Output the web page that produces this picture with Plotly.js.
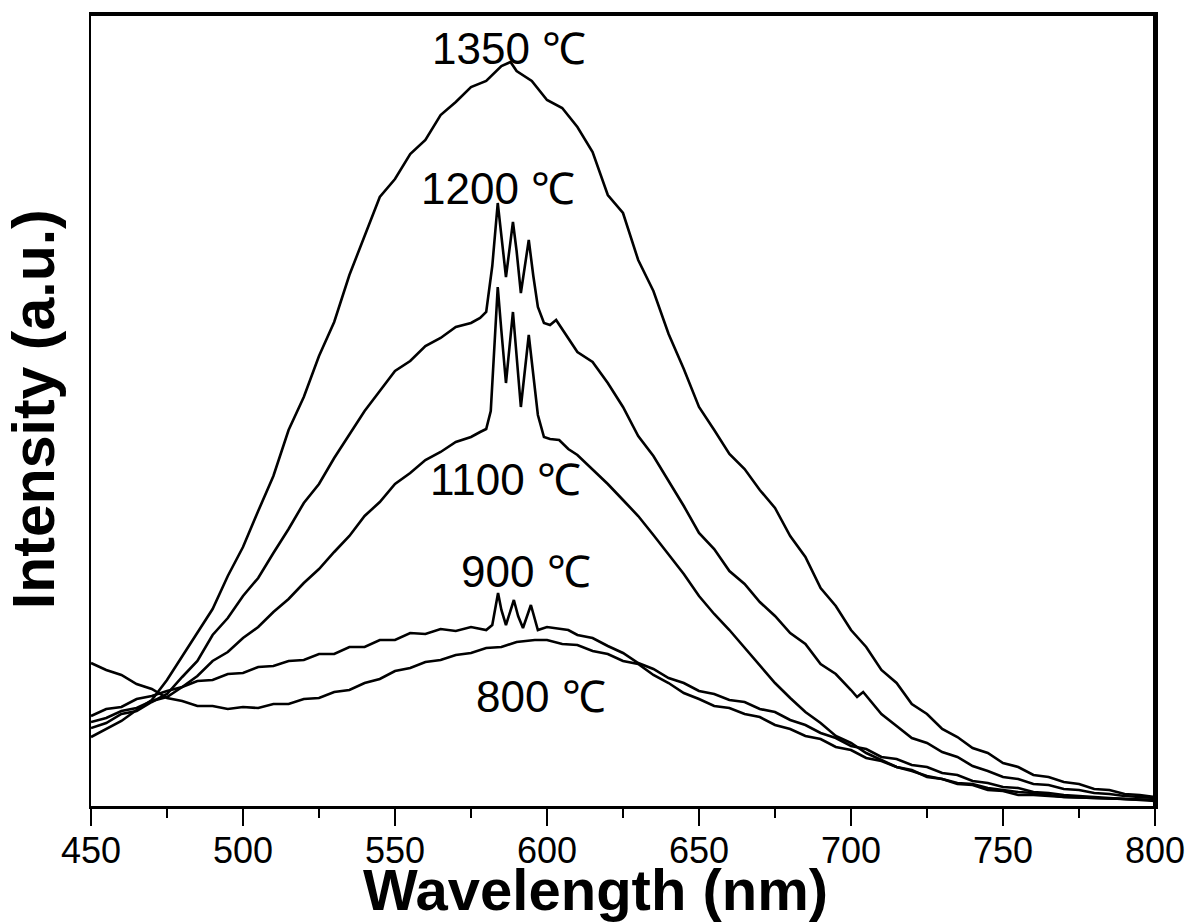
<!DOCTYPE html>
<html>
<head>
<meta charset="utf-8">
<script src="https://cdn.plot.ly/plotly-3.0.1.min.js"></script>
<style>html,body{margin:0;padding:0;background:#fff;}#chart{width:1191px;height:924px;}</style>
</head>
<body>
<div id="chart"></div>
<script>
// Wavelength (nm) and intensity (a.u.) for each annealing temperature
const wl1350 = [450,455,460,465,470,475,480,485,490,495,500,505,510,515,520,525,530,535,540,545,550,555,560,565,570,575,580,585,588,590,595,600,605,610,615,620,625,630,635,640,645,650,655,660,665,670,675,680,685,690,695,700,705,710,715,720,725,730,735,740,745,750,755,760,765,770,775,780,785,790,795,800];
const int1350 = [69,77,85,96,106,126,150,174,197,230,259,295,330,376,409,450,484,531,571,609,627,652,666,691,704,719,725,740,744,735,725,706,698,679,654,611,593,546,515,472,437,399,376,352,337,316,298,270,249,218,200,176,159,136,123,102,92,77,69,58,53,43,39,31,29,24,22,17,16,12,11,9];

const wl1200 = [450,455,460,465,470,475,480,485,490,495,500,505,510,515,520,525,530,535,540,545,550,555,560,565,570,575,578,580,582,583.8,585,586.5,588.8,590,591.4,594,595.5,597,599,601,603,605,607,610,615,620,625,630,635,640,645,650,655,660,665,670,675,680,685,690,695,700,702,704,710,715,720,725,730,735,740,745,750,755,760,765,770,775,780,785,790,795,800];
const int1200 = [78,83,92,95,104,112,129,145,171,188,210,228,253,277,303,322,348,371,395,415,435,445,460,468,479,483,488,494,540,603,570,529,584,555,513,566,530,499,483,481,486,477,467,454,444,423,399,370,350,325,300,273,257,235,222,204,190,173,162,142,132,116,109,114,92,80,68,63,54,49,40,35,29,27,22,21,17,16,13,12,10,9,8];

const wl1100 = [450,455,460,465,470,475,480,485,490,495,500,505,510,515,520,525,530,535,540,545,550,555,560,565,570,575,578,580,581.5,583.8,585,586.5,588.8,590,591.4,594,595.5,597,599,601,604,607,610,615,620,625,630,635,640,645,650,655,660,665,670,675,680,685,690,695,700,705,710,715,720,725,730,735,740,745,750,755,760,765,770,780,790,800];
const int1100 = [84,88,95,98,105,109,119,130,145,154,168,179,194,207,223,237,254,270,290,304,322,333,346,354,364,369,374,377,395,519,475,423,494,450,399,471,430,391,369,367,366,357,351,337,322,306,290,271,251,232,210,192,176,158,141,123,108,94,83,70,63,53,46,39,35,30,27,23,22,18,16,14,13,11,9,8,7,6];

const wl900 = [450,455,460,465,470,475,480,485,490,495,500,505,510,515,520,525,530,535,540,545,550,555,560,565,570,575,580,582,583.9,585,586.5,589.1,590.5,592.1,594.7,596,597,600,604,607,610,615,620,625,630,635,640,645,650,655,660,665,670,675,680,685,690,695,700,705,710,715,720,725,730,735,740,745,750,755,760,765,770,780,790,800];
const int900 = [90,97,99,107,110,115,119,125,126,132,133,139,140,145,146,152,152,159,159,166,166,173,172,177,175,179,176,181,213,196,181,206,190,178,201,186,176,179,177,176,171,168,160,153,143,137,128,123,115,112,106,104,97,94,86,81,73,68,60,57,49,47,41,39,33,31,25,23,19,18,14,13,11,9,7,6];

const wl800 = [450,455,460,465,470,475,480,485,490,495,500,505,510,515,520,525,530,535,540,545,550,555,560,565,570,575,580,585,590,596,600,605,610,615,620,625,630,635,640,645,650,655,660,665,670,675,680,685,690,695,700,705,710,715,720,725,730,735,740,745,750,755,760,770,780,790,800];
const int800 = [143,136,131,122,117,108,105,100,100,97,99,98,102,102,107,108,114,116,123,127,135,138,144,146,151,153,158,159,164,166,166,162,161,155,152,145,142,131,123,113,107,100,98,92,89,81,77,70,67,59,56,48,45,39,36,29,27,22,21,16,15,11,11,9,8,7,5];

const xTickVals = [450,500,550,600,650,700,750,800];
const xTickText = ["450","500","550","600","650","700","750","800"];
const seriesLabels = ["1350 ℃","1200 ℃","1100 ℃","900 ℃","800 ℃"];

const series = [[wl1350,int1350],[wl1200,int1200],[wl1100,int1100],[wl900,int900],[wl800,int800]];
const traces = series.map((s,i)=>({
  x: s[0], y: s[1], type:'scatter', mode:'lines', name: seriesLabels[i],
  line:{color:'#000', width:2.6}, hoverinfo:'skip'
}));

// label anchor positions (data coords)
const labelPos = [[587.5,758],[584,618],[586.5,327],[593,235],[598,110]];
const annotations = seriesLabels.map((t,i)=>({
  x: labelPos[i][0], y: labelPos[i][1], xref:'x', yref:'y', text:t, showarrow:false,
  xanchor:'center', yanchor:'middle',
  font:{family:'Liberation Sans, Arial, sans-serif', size:44, color:'#000'}
}));
annotations.push({
  x: 0.4737, y: -0.105, xref:'paper', yref:'paper', text:'<b>Wavelength (nm)</b>', showarrow:false,
  xanchor:'center', yanchor:'middle',
  font:{family:'Liberation Sans, Arial, sans-serif', size:58, color:'#000'}
});
annotations.push({
  x: -0.0536, y: 0.501, xref:'paper', yref:'paper', text:'<b>Intensity (a.u.)</b>', showarrow:false,
  textangle:-90, xanchor:'center', yanchor:'middle',
  font:{family:'Liberation Sans, Arial, sans-serif', size:59, color:'#000'}
});

const layout = {
  width:1191, height:924,
  margin:{l:91, r:36, t:14, b:118},
  paper_bgcolor:'#fff', plot_bgcolor:'#fff',
  showlegend:false,
  xaxis:{
    range:[450,800], tickvals:xTickVals, ticktext:xTickText,
    ticks:'outside', ticklen:17, tickwidth:2.2, tickcolor:'#000',
    minor:{dtick:25, tick0:450, ticks:'outside', ticklen:9, tickwidth:2.2, tickcolor:'#000', showgrid:false},
    showgrid:false, zeroline:false, showline:true, linecolor:'#000', linewidth:2.5, mirror:true,
    tickfont:{family:'Liberation Sans, Arial, sans-serif', size:36, color:'#000'},
    ticklabelstandoff:-6
  },
  yaxis:{
    range:[0,792], showticklabels:false, ticks:'', showgrid:false, zeroline:false,
    showline:true, linecolor:'#000', linewidth:2.5, mirror:true
  },
  shapes:[
    {type:'line', xref:'paper', yref:'paper', x0:0, x1:1, y0:1, y1:1, line:{color:'#000', width:4}},
    {type:'line', xref:'paper', yref:'paper', x0:1, x1:1, y0:0, y1:1, line:{color:'#000', width:4}}
  ],
  annotations: annotations
};

Plotly.newPlot('chart', traces, layout, {displayModeBar:false, staticPlot:true});
</script>
</body>
</html>
